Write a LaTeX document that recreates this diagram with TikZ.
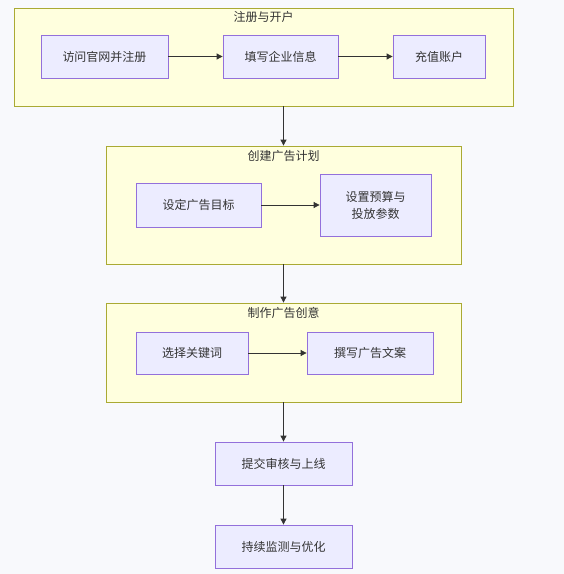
\documentclass[tikz,border=0pt]{standalone}
\usepackage{fontspec}
\setmainfont{Noto Sans CJK SC}
\usepackage{tikz}
\usetikzlibrary{arrows.meta}
\definecolor{bg}{HTML}{F8F9FC}
\definecolor{clfill}{HTML}{FFFFDE}
\definecolor{clline}{HTML}{AAAA33}
\definecolor{boxfill}{HTML}{ECECFF}
\definecolor{boxline}{HTML}{9370DB}
\definecolor{ink}{HTML}{333333}
\tikzstyle{cl}=[shape=rectangle,draw=clline,fill=clfill,line width=0.8pt,inner sep=0pt]
\tikzstyle{box}=[shape=rectangle,draw=boxline,fill=boxfill,line width=0.8pt,text=ink,align=center,inner sep=0pt,font=\fontsize{12}{17}\selectfont]
\tikzstyle{title}=[text=ink,font=\fontsize{12}{15}\selectfont]
\tikzstyle{from}=[{Triangle[length=6pt,width=6pt]}-,draw=ink,line width=0.8pt]
\tikzstyle{to}=[-{Triangle[length=6pt,width=6pt]},draw=ink,line width=0.8pt]

\begin{document}
\begin{tikzpicture}[x=1pt,y=-1pt]
            \fill[bg] (0,0) rectangle (564,574);
            \useasboundingbox (0,0) rectangle (564,574);
            % clusters
            \node[cl, minimum width=499pt, minimum height=98pt] (K1) at (263.5, 57) {};
            \node[title] (T1) at (263.5, 17) {注册与开户};
            \node[cl, minimum width=355pt, minimum height=118pt] (K2) at (283.5, 205) {};
            \node[title] (T2) at (283.5, 156) {创建广告计划};
            \node[cl, minimum width=355pt, minimum height=99pt] (K3) at (283.5, 352.5) {};
            \node[title] (T3) at (283.5, 313) {制作广告创意};
            % steps
            \node[box, minimum width=127pt, minimum height=43pt] (A1) at (104.5, 56.5) {访问官网并注册}
            ;
            \node[box, minimum width=115pt, minimum height=43pt] (A2) at (280.5, 56.5) {填写企业信息}
                edge[from] (A1)
            ;
            \node[box, minimum width=92pt, minimum height=43pt] (A3) at (439, 56.5) {充值账户}
                edge[from] (A2)
            ;
            \node[box, minimum width=125pt, minimum height=44pt] (B1) at (198.5, 205) {设定广告目标}
            ;
            \node[box, minimum width=111pt, minimum height=62pt] (B2) at (375.5, 205) {设置预算与\\投放参数}
                edge[from] (B1)
            ;
            \node[box, minimum width=112pt, minimum height=42pt] (C1) at (192, 353) {选择关键词}
            ;
            \node[box, minimum width=126pt, minimum height=42pt] (C2) at (370, 353) {撰写广告文案}
                edge[from] (C1)
            ;
            \node[box, minimum width=137pt, minimum height=43pt] (D1) at (283.5, 463.5) {提交审核与上线}
            ;
            \node[box, minimum width=137pt, minimum height=43pt] (D2) at (283.5, 546.5) {持续监测与优化}
                edge[from] (D1)
            ;
            % between clusters
            \draw[to] (K1.south -| K2.north) -- (K2.north);
            \draw[to] (K2.south) -- (K3.north);
            \draw[to] (K3.south) -- (D1.north);
        \end{tikzpicture}
\end{document}
